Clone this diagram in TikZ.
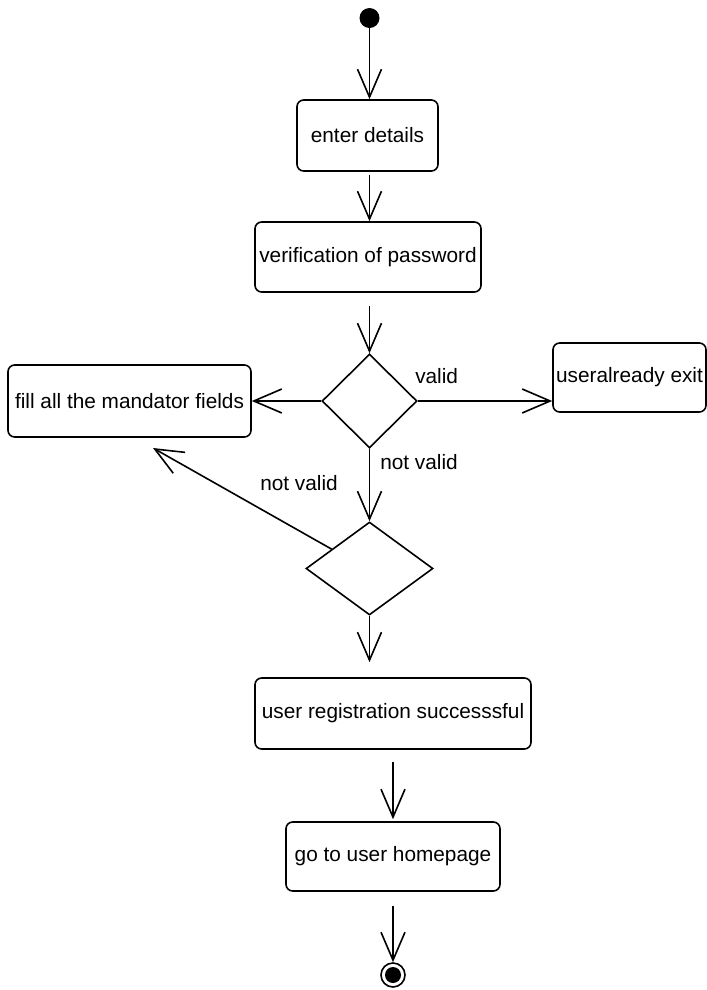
\documentclass[tikz,border=0pt]{standalone}
\usepackage{fontspec}
\setmainfont{Liberation Sans}
\usetikzlibrary{shapes.geometric,arrows.meta,calc}
\newdimen\pxu
\pxu=0.75pt
\begin{document}
\begin{tikzpicture}[x=0.75pt,y=-0.75pt,
  every node/.style={font=\fontsize{15.6pt}{18pt}\selectfont},
  actbox/.style={draw, line width=1.2pt, rounded corners=5pt, inner sep=0pt, align=center},
  decis/.style={draw, diamond, line width=1.2pt, inner sep=0pt},
  flow/.style={line width=1.2pt, -{Straight Barb[length=21pt,width=18pt,line width=1.2pt]}},
  lbl/.style={anchor=west, inner sep=0pt}]
\useasboundingbox (0,0) rectangle (707,990);

\node[circle, fill=black, minimum size=20\pxu, inner sep=0pt] (start) at (369.5,18) {};
\node[actbox, minimum width=141\pxu, minimum height=71\pxu] (enter) at (367.5,135.5) {enter details};
\node[actbox, minimum width=226\pxu, minimum height=70\pxu] (verif) at (368,257) {verification of password};
\node[decis, minimum width=95\pxu, minimum height=94\pxu] (d1) at (369.5,401) {};
\node[actbox, minimum width=243\pxu, minimum height=72\pxu] (fill) at (129.5,401) {fill all the mandator fields};
\node[actbox, minimum width=153\pxu, minimum height=69\pxu] (ua) at (629.5,377.5) {useralready exit};
\node[decis, minimum width=127\pxu, minimum height=93\pxu] (d2) at (369.5,568.5) {};
\node[actbox, minimum width=276\pxu, minimum height=71\pxu] (ur) at (393,713.5) {user registration successsful};
\node[actbox, minimum width=214\pxu, minimum height=69\pxu] (go) at (393,856.5) {go to user homepage};
\node[circle, draw, line width=1.2pt, minimum size=24\pxu, inner sep=0pt] (stop) at (393,975) {};
\fill (stop.center) circle (8);

\coordinate (back) at (153,448);

\draw[flow] (start.south) -- (start.south |- enter.north);
\draw[flow, shorten <=3\pxu] (start.south |- enter.south) -- (start.south |- verif.north);
\draw[flow, shorten <=13\pxu] (d1.north |- verif.south) -- (d1.north);
\draw[flow] (d1.west) -- (fill.east);
\draw[flow] (d1.east) -- (d1.east -| ua.west);
\draw[flow] (d1.south) -- (d2.north);
\draw[flow] ($(d2.north)!0.59!(d2.west)$) -- (back);
\draw[flow, shorten >=15\pxu] (d2.south) -- (d2.south |- ur.north);
\draw[flow, shorten <=12\pxu, shorten >=2\pxu] (ur.south) -- (go.north);
\draw[flow, shorten <=14\pxu] (go.south) -- (stop.north);

\node[lbl] (lvalid) at (415,376) {valid};
\node[lbl] (lnv1) at (380,462) {not valid};
\node[lbl] (lnv2) at (260,483) {not valid};
\end{tikzpicture}
\end{document}
